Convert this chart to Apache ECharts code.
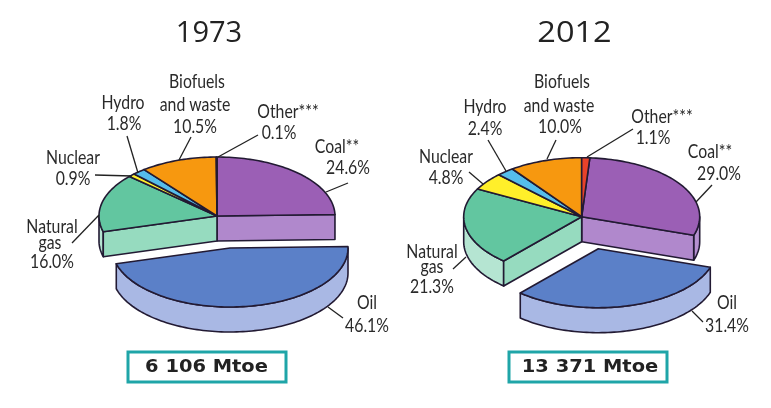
<!DOCTYPE html>
<html><head><meta charset="utf-8">
<style>html,body{margin:0;padding:0;background:#fff}#c{width:771px;height:408px}</style>
<script src="https://cdn.jsdelivr.net/npm/echarts@6/dist/echarts.min.js"></script>
</head><body><div id="c"></div>
<script>
// ---- data ----
const categories = ['Coal**','Oil','Natural gas','Nuclear','Hydro','Biofuels and waste','Other***'];
const values1973 = [24.6,46.1,16.0,0.9,1.8,10.5,0.1];
const values2012 = [29.0,31.4,21.3,4.8,2.4,10.0,1.1];
const years = ['1973','2012'];
const totals = ['6 106 Mtoe','13 371 Mtoe'];

// ---- styles ----
const EDGE = '#221a33';
const topColors   = ['#9B5FB5','#5B80C8','#62C6A0','#FFEF2A','#55BDEB','#F7980F','#E8422A'];
const radialColors= ['#B088CC','#A9B8E4','#96DBBF','#FFEF2A','#55BDEB','#F7980F','#E8422A'];
const outerColors = ['#B690D0','#A9B8E4','#B5E5D2','#FFEF2A','#55BDEB','#F7980F','#E8422A'];
const LABEL_FONT = 'Lato,"Liberation Sans",sans-serif';

// ---- layout ----
const RX = 118, RY = 59, DEPTH = 25;
const pies = [
  {cx:217, cy:216, startDeg:0, explode:[13,32], values:values1973, titleX:209, titleScale:1, boxTextX:206.5, box:[128,352,158,30],
   labels:[
    ['Biofuels',197,82],['and waste',195,105],['10.5%',195,127],
    ['Hydro',123,103],['1.8%',124,124],
    ['Other***',288,112],['0.1%',279,133],
    ['Coal**',337,147],['24.6%',348,168],
    ['Nuclear',73,158],['0.9%',73,179],
    ['Natural',52,227],['gas',50,243],['16.0%',52,262],
    ['Oil',367,303],['46.1%',367,326]],
   leaders:[[258,135,218,157],[348,183,326,192],[343,318,328,307],[191,137,179,160],[127,136,138,173],[95,175,132,176],[72,243,99,215]]},
  {cx:581.7, cy:216.7, startDeg:3.96, explode:[16.6,32], values:values2012, titleX:574.5, titleScale:1.12, boxTextX:590, box:[509,352,158,30],
   labels:[
    ['Biofuels',562,82],['and waste',559,106],['10.0%',560,127],
    ['Hydro',485,107],['2.4%',485,129],
    ['Other***',662,117],['1.1%',653,138],
    ['Coal**',710,152],['29.0%',719,174],
    ['Nuclear',446,157],['4.8%',446,178],
    ['Natural',432,252],['gas',432,267],['21.3%',432,287],
    ['Oil',727,303],['31.4%',727,326]],
   leaders:[[633,129,587,157],[712,185,696,202],[703,322,692,311],[556,140,547,159],[488,140,506,171],[469,172,483,184],[453,269,466,257]]}
];
const EXPLODED = 1; // index of Oil

function sliceRanges(values, startDeg){
  const total = values.reduce((a,b)=>a+b,0);
  let a = startDeg;
  return values.map(v=>{const s=a; a+=v/total*360; return [s,a];});
}
function pt(cx,cy,deg,dy){
  const r = deg*Math.PI/180;
  return [cx+RX*Math.sin(r), cy-RY*Math.cos(r)+(dy||0)];
}
function arc(cx,cy,a0,a1,dy){
  const n = Math.max(2,Math.ceil(Math.abs(a1-a0)/1.5)), out=[];
  for(let i=0;i<=n;i++) out.push(pt(cx,cy,a0+(a1-a0)*i/n,dy));
  return out;
}
function poly(points,fill,w){
  return {type:'polygon',shape:{points},style:{fill,stroke:EDGE,lineWidth:w||1.6,lineJoin:'round'}};
}
function makeRender(pie){
  const ranges = sliceRanges(pie.values,pie.startDeg);
  return function(params,api){
    const i = params.dataIndex;
    if(api.value(0)<=0) return null;
    const [a0,a1] = ranges[i];
    const ex = i===EXPLODED;
    const cx = pie.cx+(ex?pie.explode[0]:0), cy = pie.cy+(ex?pie.explode[1]:0);
    const children = [];
    const w0 = Math.max(a0,90), w1 = Math.min(a1,270);
    if(w1>w0){
      children.push(poly(arc(cx,cy,w0,w1,0).concat(arc(cx,cy,w1,w0,DEPTH)),outerColors[i]));
    }
    if(!ex && (i===EXPLODED-1 || i===EXPLODED+1)){
      const a = i===EXPLODED-1 ? a1 : a0;
      const e = pt(cx,cy,a,0);
      children.push(poly([[cx,cy],e,[e[0],e[1]+DEPTH],[cx,cy+DEPTH]],radialColors[i]));
    }
    children.push(poly([[cx,cy]].concat(arc(cx,cy,a0,a1,0)),topColors[i]));
    return {type:'group',children};
  };
}

const graphics = [];
pies.forEach((p,k)=>{
  p.leaders.forEach(l=>graphics.push({type:'line',z:5,shape:{x1:l[0],y1:l[1],x2:l[2],y2:l[3]},style:{stroke:'#222',lineWidth:1.3}}));
  p.labels.forEach(l=>graphics.push({type:'text',z:6,x:l[1],y:l[2],scaleX:0.79,style:{text:l[0],fontSize:20,fontFamily:LABEL_FONT,fill:'#2a2a2a',align:'center',verticalAlign:'middle'}}));
  const b=p.box;
  graphics.push({type:'rect',z:5,shape:{x:b[0],y:b[1],width:b[2],height:b[3]},style:{fill:'#fff',stroke:'#1FA5A8',lineWidth:3}});
  graphics.push({type:'text',z:6,x:p.boxTextX,y:b[1]+b[3]/2,scaleX:1.08,style:{text:totals[k],fontSize:18,fontWeight:'bold',fontFamily:'"DejaVu Sans",sans-serif',fill:'#222',align:'center',verticalAlign:'middle'}});
  graphics.push({type:'text',z:6,x:p.titleX,y:34,scaleX:p.titleScale,style:{text:years[k],fontSize:29,fontFamily:'"Open Sans",sans-serif',fill:'#222',align:'center',verticalAlign:'middle'}});
});

const chart = echarts.init(document.getElementById('c'),null,{renderer:'canvas'});
chart.setOption({
  animation:false,
  backgroundColor:'#fff',
  series:pies.map(p=>({
    type:'custom',coordinateSystem:'none',silent:true,
    renderItem:makeRender(p),
    data:p.values.map((v,i)=>({name:categories[i],value:[v]}))
  })),
  graphic:{elements:graphics}
});
</script></body></html>
